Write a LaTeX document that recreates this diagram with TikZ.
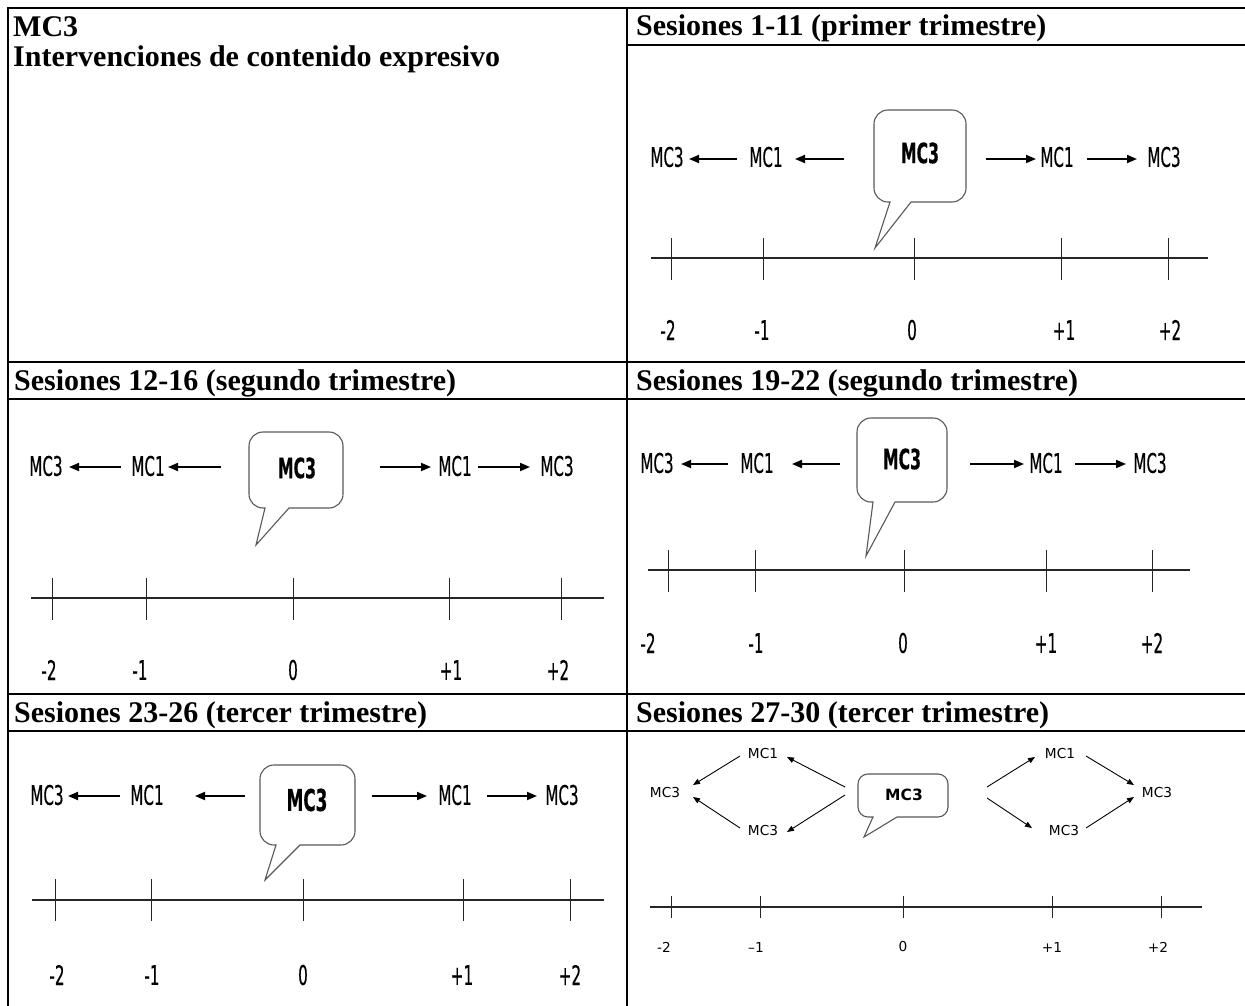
\documentclass[tikz,border=0pt]{standalone}
\usepackage{fontspec}
\setmainfont{Liberation Serif}
\newfontfamily\narrowsans[FakeStretch=0.56, FakeBold=0.4]{DejaVu Sans}
\newfontfamily\plainsans{DejaVu Sans}
\usetikzlibrary{arrows.meta}

\tikzset{
  gridline/.style={line width=2pt, black},
  head/.style={anchor=base west, inner sep=0pt, font=\fontsize{30}{33}\selectfont\bfseries},
  nlab/.style={inner sep=0pt, font=\narrowsans\fontsize{27}{30}\selectfont},
  nbold/.style={inner sep=0pt, font=\narrowsans\fontsize{28}{31}\selectfont\bfseries},
  vlab/.style={inner sep=0pt, font=\plainsans\fontsize{13.7}{16}\selectfont},
  vbold/.style={inner sep=0pt, font=\plainsans\fontsize{15.5}{18}\selectfont\bfseries},
  bigarrow/.style={line width=1.8pt, -{Triangle[length=10pt,width=8pt]}},
  smallarrow/.style={line width=0.9pt, -{Triangle[length=7pt,width=5.5pt]}},
  axisline/.style={line width=1.6pt, black!85},
  tickline/.style={line width=1pt, black!85},
  bubble/.style={draw=black!65, line width=1.1pt, fill=white},
}

% speech bubble: left, top, right, bottom, tail base left, tail base right, tip x, tip y, radius
\newcommand\speechbubble[9]{%
  \draw[bubble] (#6,#4) [rounded corners=#9pt] -- (#3,#4) -- (#3,#2) -- (#1,#2) -- (#1,#4)
    [sharp corners] -- (#5,#4) -- (#7,#8) -- cycle;}

\begin{document}
\begin{tikzpicture}[x=1pt, y=-1pt]
\useasboundingbox (0,0) rectangle (1245,1006);
\fill[white] (0,0) rectangle (1245,1006);

% table grid
\draw[gridline] (8,1006) -- (8,8) -- (1245,8);
\draw[gridline] (627,8) -- (627,1006);
\draw[gridline] (627,45) -- (1245,45);
\draw[gridline] (8,362) -- (1245,362);
\draw[gridline] (8,399) -- (1245,399);
\draw[gridline] (8,694) -- (1245,694);
\draw[gridline] (8,731) -- (1245,731);

% headings
\node[head] (h0a) at (13,37) {MC3};
\node[head] (h0b) at (13,67) {Intervenciones de contenido expresivo};
\node[head] (h1) at (636,36) {Sesiones 1-11 (primer trimestre)};
\node[head] (h2) at (14,390) {Sesiones 12-16 (segundo trimestre)};
\node[head] (h3) at (636,390) {Sesiones 19-22 (segundo trimestre)};
\node[head] (h4) at (14,722) {Sesiones 23-26 (tercer trimestre)};
\node[head] (h5) at (636,722) {Sesiones 27-30 (tercer trimestre)};

% ---------- panel: sesiones 1-11 ----------
\speechbubble{874}{110}{966}{202}{890}{911}{875}{248}{14}
\node[nbold] (r1c) at (920,153) {MC3};
\foreach \n/\x/\t in {r1m3l/667/MC3, r1m1l/766/MC1, r1m1r/1057/MC1, r1m3r/1164/MC3}
  \node[nlab] (\n) at (\x,157) {\t};
\foreach \n/\sx/\ex in {r1a/737/689, r1b/844/795, r1c/986/1036, r1d/1087/1137}{
  \coordinate (\n s) at (\sx,159); \coordinate (\n e) at (\ex,159);
  \draw[bigarrow] (\n s) -- (\n e);}
\coordinate (r1axl) at (651,258); \coordinate (r1axr) at (1208,258);
\draw[axisline] (r1axl) -- (r1axr);
\foreach \n/\x/\lx/\t in {a/671/668/-2, b/763/762/-1, c/914/912/0, d/1061/1064/+1, e/1168/1170/+2}{
  \coordinate (r1t\n u) at (\x,238); \coordinate (r1t\n d) at (\x,280);
  \draw[tickline] (r1t\n u) -- (r1t\n d);
  \node[nlab] (r1l\n) at (\lx,330) {\t};}

% ---------- panel: sesiones 12-16 ----------
\speechbubble{249}{432}{343}{508}{265}{289}{256}{545}{14}
\node[nbold] (l2c) at (297,468) {MC3};
\foreach \n/\x/\t in {l2m3l/46/MC3, l2m1l/148/MC1, l2m1r/455/MC1, l2m3r/557/MC3}
  \node[nlab] (\n) at (\x,466) {\t};
\foreach \n/\sx/\ex in {l2a/121/69, l2b/221/168, l2c/380/431, l2d/478/530}{
  \coordinate (\n s) at (\sx,467); \coordinate (\n e) at (\ex,467);
  \draw[bigarrow] (\n s) -- (\n e);}
\coordinate (l2axl) at (31,598); \coordinate (l2axr) at (604,598);
\draw[axisline] (l2axl) -- (l2axr);
\foreach \n/\x/\lx/\t in {a/52/49/-2, b/146/140/-1, c/293/293/0, d/449/451/+1, e/561/558/+2}{
  \coordinate (l2t\n u) at (\x,578); \coordinate (l2t\n d) at (\x,620);
  \draw[tickline] (l2t\n u) -- (l2t\n d);
  \node[nlab] (l2l\n) at (\lx,670) {\t};}

% ---------- panel: sesiones 19-22 ----------
\speechbubble{857}{418}{947}{502}{873}{895}{866}{556}{14}
\node[nbold] (r2c) at (902,459) {MC3};
\foreach \n/\x/\t in {r2m3l/657/MC3, r2m1l/757/MC1, r2m1r/1046/MC1, r2m3r/1150/MC3}
  \node[nlab] (\n) at (\x,463) {\t};
\foreach \n/\sx/\ex in {r2a/728/681, r2b/840/792, r2c/970/1024, r2d/1075/1126}{
  \coordinate (\n s) at (\sx,464); \coordinate (\n e) at (\ex,464);
  \draw[bigarrow] (\n s) -- (\n e);}
\coordinate (r2axl) at (648,570); \coordinate (r2axr) at (1190,570);
\draw[axisline] (r2axl) -- (r2axr);
\foreach \n/\x/\lx/\t in {a/668/648/-2, b/755/756/-1, c/904/903/0, d/1046/1046/+1, e/1152/1152/+2}{
  \coordinate (r2t\n u) at (\x,550); \coordinate (r2t\n d) at (\x,592);
  \draw[tickline] (r2t\n u) -- (r2t\n d);
  \node[nlab] (r2l\n) at (\lx,643) {\t};}

% ---------- panel: sesiones 23-26 ----------
\speechbubble{260}{765}{355}{845}{276}{300}{265}{880}{14}
\node[nbold, font=\narrowsans\fontsize{30}{33}\selectfont\bfseries] (l3c) at (307,800) {MC3};
\foreach \n/\x/\t in {l3m3l/47/MC3, l3m1l/147/MC1, l3m1r/455/MC1, l3m3r/562/MC3}
  \node[nlab] (\n) at (\x,795) {\t};
\foreach \n/\sx/\ex in {l3a/120/68, l3b/245/195, l3c/372/427, l3d/487/537}{
  \coordinate (\n s) at (\sx,796); \coordinate (\n e) at (\ex,796);
  \draw[bigarrow] (\n s) -- (\n e);}
\coordinate (l3axl) at (32,900); \coordinate (l3axr) at (604,900);
\draw[axisline] (l3axl) -- (l3axr);
\foreach \n/\x/\lx/\t in {a/55/57/-2, b/151/152/-1, c/303/303/0, d/463/462/+1, e/570/570/+2}{
  \coordinate (l3t\n u) at (\x,879); \coordinate (l3t\n d) at (\x,921);
  \draw[tickline] (l3t\n u) -- (l3t\n d);
  \node[nlab] (l3l\n) at (\lx,975) {\t};}

% ---------- panel: sesiones 27-30 ----------
\speechbubble{858}{774}{948}{817}{873}{897}{864}{837}{10}
\node[vbold] (r3c) at (904,795) {MC3};
\foreach \n/\x/\y/\t in {r3tl/763/754/MC1, r3ml/665/793/MC3, r3bl/763/831/MC3,
                         r3tr/1060/754/MC1, r3br/1064/831/MC3, r3mr/1157/793/MC3}
  \node[vlab] (\n) at (\x,\y) {\t};
\foreach \n/\sx/\sy/\ex/\ey in {r3a/845/787/787/757, r3b/845/795/787/832,
    r3c/740/756/693/785, r3d/740/828/693/797, r3e/987/787/1035/757,
    r3f/987/798/1032/828, r3g/1086/756/1134/785, r3h/1086/828/1134/797}{
  \coordinate (\n s) at (\sx,\sy); \coordinate (\n e) at (\ex,\ey);
  \draw[smallarrow] (\n s) -- (\n e);}
\coordinate (r3axl) at (650,907); \coordinate (r3axr) at (1202,907);
\draw[axisline, line width=1.2pt] (r3axl) -- (r3axr);
\foreach \n/\x/\lx/\t in {a/671/664/-2, b/760/756/–1, c/903/903/0, d/1052/1052/+1, e/1161/1158/+2}{
  \coordinate (r3t\n u) at (\x,896); \coordinate (r3t\n d) at (\x,918);
  \draw[tickline] (r3t\n u) -- (r3t\n d);
  \node[vlab] (r3l\n) at (\lx,947) {\t};}
\end{tikzpicture}
\end{document}
